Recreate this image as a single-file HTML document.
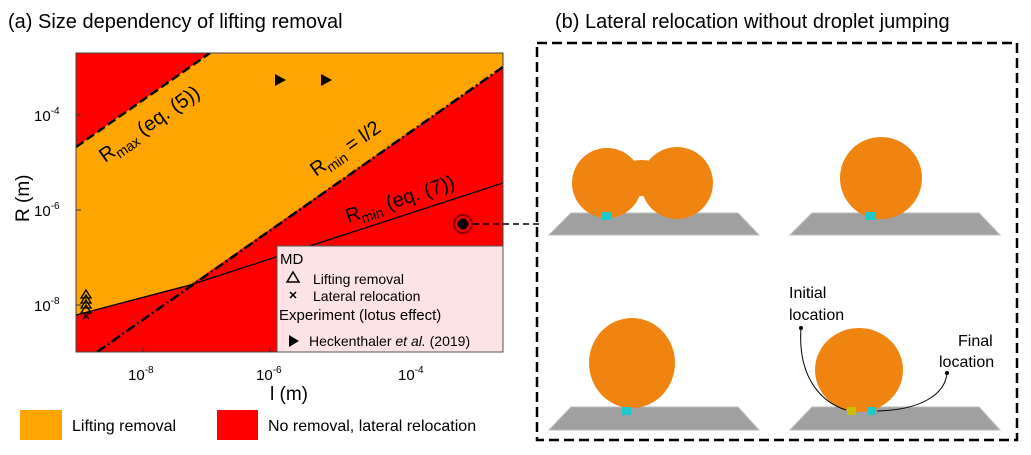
<!DOCTYPE html>
<html><head><meta charset="utf-8"><style>
body{margin:0;background:#fff}
svg{display:block;font-family:"Liberation Sans",Arial,sans-serif}
</style></head><body>
<svg width="1031" height="455" viewBox="0 0 1031 455" xmlns="http://www.w3.org/2000/svg">
<defs>
<clipPath id="pc"><rect x="76" y="53" width="427" height="299"/></clipPath>
</defs>
<text x="8" y="28" font-size="20">(a) Size dependency of lifting removal</text>
<text x="555" y="28" font-size="20">(b) Lateral relocation without droplet jumping</text>
<g clip-path="url(#pc)">
<rect x="76" y="53" width="427" height="299" fill="#ff0000"/>
<polygon points="76,147 210,53 503,53 503,67 190,285 76,315" fill="#ffa500"/>
<line x1="76" y1="147" x2="210" y2="53" stroke="#000" stroke-width="2.5" stroke-dasharray="9,4"/>
<line x1="97" y1="352" x2="503" y2="67" stroke="#000" stroke-width="2.5" stroke-dasharray="10,3,2,3"/>
<polyline points="76,315 190,285 503,183" fill="none" stroke="#000" stroke-width="1.3"/>
</g>
<rect x="76" y="53" width="427" height="299" fill="none" stroke="#444" stroke-width="1"/>
<g stroke="#333" stroke-width="1">
<line x1="76" y1="115" x2="81" y2="115"/><line x1="76" y1="210" x2="81" y2="210"/><line x1="76" y1="305" x2="81" y2="305"/>
<line x1="143" y1="352" x2="143" y2="347"/><line x1="270" y1="352" x2="270" y2="347"/><line x1="412" y1="352" x2="412" y2="347"/>
</g>
<text font-size="15" x="34" y="121">10<tspan font-size="10" dy="-7">-4</tspan></text>
<text font-size="15" x="34" y="216">10<tspan font-size="10" dy="-7">-6</tspan></text>
<text font-size="15" x="34" y="311">10<tspan font-size="10" dy="-7">-8</tspan></text>
<text font-size="15" x="128" y="380">10<tspan font-size="10" dy="-7">-8</tspan></text>
<text font-size="15" x="256" y="380">10<tspan font-size="10" dy="-7">-6</tspan></text>
<text font-size="15" x="398" y="380">10<tspan font-size="10" dy="-7">-4</tspan></text>
<text font-size="19" transform="translate(29,222) rotate(-90)">R (m)</text>
<text font-size="19" x="270" y="400">l (m)</text>
<text font-size="20" transform="translate(105,163) rotate(-35)">R<tspan font-size="14" dy="5">max</tspan><tspan dy="-5"> (eq. (5))</tspan></text>
<text font-size="20" transform="translate(316,177) rotate(-35)">R<tspan font-size="14" dy="5">min</tspan><tspan dy="-5"> = l/2</tspan></text>
<text font-size="20" transform="translate(348,223) rotate(-18)">R<tspan font-size="14" dy="5">min</tspan><tspan dy="-5">  (eq. (7))</tspan></text>
<polygon points="275,74 286,80 275,86" fill="#000"/>
<polygon points="321,74 332,80 321,86" fill="#000"/>
<g fill="none" stroke="#000" stroke-width="1.3">
<polygon points="86,290 81,298 91,298"/><polygon points="86,295 81,303 91,303"/><polygon points="86,300 81,308 91,308"/><polygon points="86,305 81,313 91,313"/>
<path d="M83,313 l6,6 M89,313 l-6,6"/>
</g>
<circle cx="463" cy="224" r="9" fill="none" stroke="#8b0000" stroke-width="2"/>
<circle cx="463" cy="224" r="5.5" fill="#000"/>
<line x1="473" y1="224" x2="540" y2="224" stroke="#000" stroke-width="1.5" stroke-dasharray="6,4"/>
<rect x="277" y="246" width="226" height="106" fill="#fde3e3" stroke="#555" stroke-width="1"/>
<text font-size="15" x="280" y="264">MD</text>
<polygon points="293,272 287,282 299,282" fill="none" stroke="#000" stroke-width="1.5"/>
<text font-size="14" x="313" y="284">Lifting removal</text>
<path d="M290,292 l6,6 M296,292 l-6,6" stroke="#000" stroke-width="1.5"/>
<text font-size="14" x="313" y="301">Lateral relocation</text>
<text font-size="15" x="279" y="320">Experiment (lotus effect)</text>
<polygon points="289,335 299,341 289,347" fill="#000"/>
<text font-size="14" x="309" y="346">Heckenthaler <tspan font-style="italic">et al.</tspan> (2019)</text>
<rect x="20" y="410" width="42" height="30" fill="#ffa500"/>
<text font-size="16" x="72" y="431">Lifting removal</text>
<rect x="217" y="410" width="41" height="30" fill="#ff0000"/>
<text font-size="16" x="268" y="431">No removal, lateral relocation</text>
<rect x="537" y="43" width="480" height="397" fill="none" stroke="#000" stroke-width="2.5" stroke-dasharray="10,5"/>
<g fill="#a0a0a0" stroke="#bbb" stroke-width="1">
<polygon points="571,213 738,213 759,235 549,235"/>
<polygon points="812,213 979,213 1000,235 790,235"/>
<polygon points="571,407 738,407 759,430 549,430"/>
<polygon points="812,407 979,407 1000,430 790,430"/>
</g>
<g fill="#f08410">
<circle cx="607" cy="183" r="35"/><circle cx="677" cy="183" r="36"/>
<ellipse cx="642" cy="178" rx="30" ry="18"/>
<circle cx="881" cy="178" r="41"/>
<ellipse cx="632" cy="363" rx="43" ry="45"/>
<ellipse cx="859" cy="370" rx="44" ry="42"/>
</g>
<g fill="#20c8c8">
<rect x="602" y="212" width="9" height="8"/><rect x="866" y="212" width="9" height="8"/>
<rect x="622" y="407" width="9" height="8"/><rect x="868" y="407" width="8" height="8"/>
</g>
<rect x="847" y="407" width="9" height="8" fill="#c8c000"/>
<text font-size="16" x="789" y="298">Initial</text>
<text font-size="16" x="789" y="320">location</text>
<text font-size="16" x="958" y="346">Final</text>
<text font-size="16" x="939" y="367">location</text>
<g fill="none" stroke="#000" stroke-width="1">
<path d="M801,328 C798,370 815,400 846,410"/>
<path d="M947,373 C945,395 920,410 877,411"/>
</g>
<circle cx="801" cy="328" r="2" fill="#000"/><circle cx="947" cy="373" r="2" fill="#000"/>
</svg>
</body></html>
